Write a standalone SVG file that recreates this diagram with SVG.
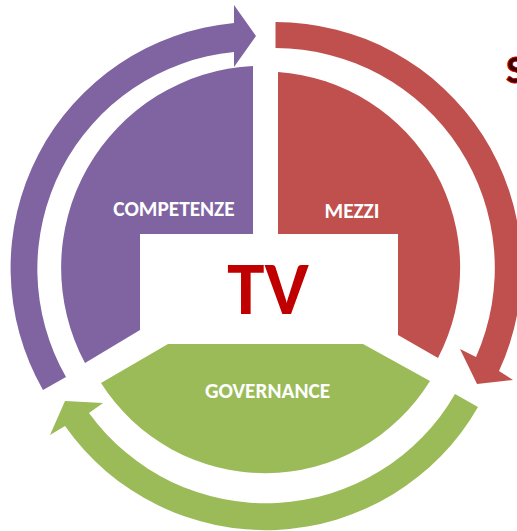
<svg xmlns="http://www.w3.org/2000/svg" width="517" height="531" viewBox="0 0 517 531">
<style>
.l{font-family:"Carlito","Lato","Liberation Sans",sans-serif;font-weight:700;font-size:21.3px;fill:#fff;text-anchor:middle}
.p{fill:#8064a2}.r{fill:#c0504d}.g{fill:#9bbb59}
</style>
<rect width="517" height="531" fill="#fff"/>
<g id="connectors">
<path class="p" d="M43 390A246 246 0 0 1 234 23V5L256 36L234 67V52A218 218 0 0 0 66 377Z"/>
<path class="r" d="M275.5 22A246 246 0 0 1 499 371L513 380L477 384L460 349L476 357A220 220 0 0 0 275.5 48Z"/>
<path class="g" d="M478 407A245 245 0 0 1 65 426L50 435L65 401L103 403L89 413A218.4 218.4 0 0 0 455 394Z"/>
</g>
<g id="competenze"><path class="p" d="M253 66V234H140V330L85 363A202 202 0 0 1 253 66Z"/><text class="l" x="174" y="216">COMPETENZE</text></g>
<g id="mezzi"><path class="r" d="M278 72V234H398V335L438 358A196 196 0 0 0 278 72Z"/><text class="l" x="352" y="218">MEZZI</text></g>
<g id="governance"><path class="g" d="M168 344H363L430 381A194 194 0 0 1 101 383Z"/><text class="l" x="267.500" y="398">GOVERNANCE</text></g>
<g id="tv"><text x="268" y="314" font-family="Carlito,Lato,'Liberation Sans',sans-serif" font-weight="700" font-size="75" fill="#c00000" text-anchor="middle">TV</text></g>
<text x="506" y="83" font-family="Carlito,Lato,'Liberation Sans',sans-serif" font-weight="700" font-size="40" fill="#400000" stroke="#c00000" stroke-width="0.8">S</text>
</svg>
